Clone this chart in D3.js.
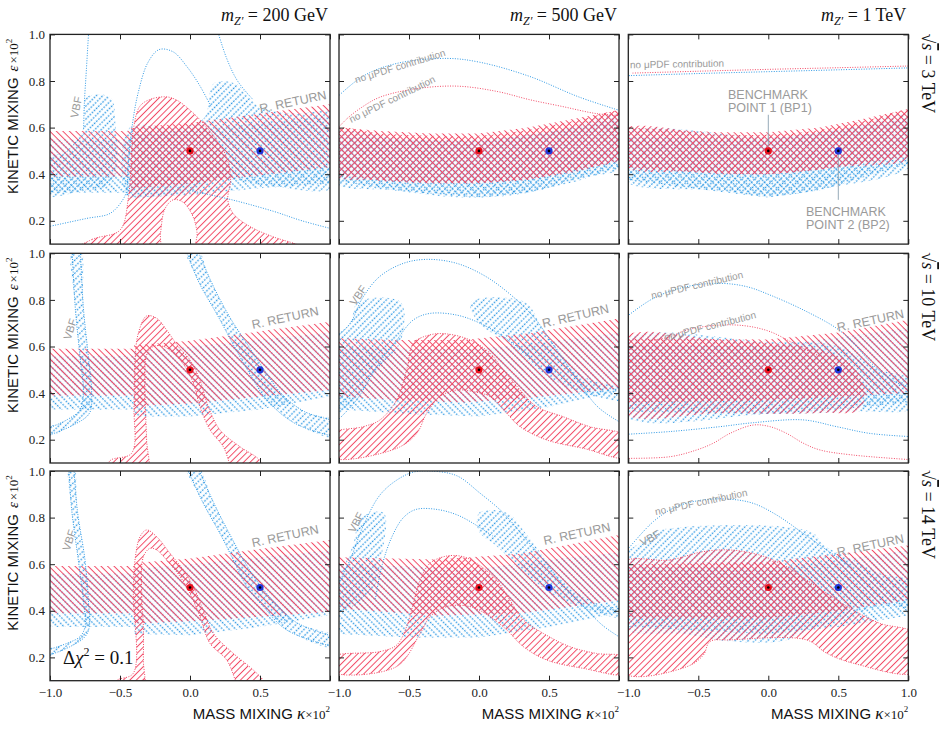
<!DOCTYPE html>
<html>
<head>
<meta charset="utf-8">
<script src="https://cdn.jsdelivr.net/npm/d3@7"></script>
<style>
body { margin: 0; background: #fff; }
</style>
</head>
<body>
<script>
// values: x = kappa*1e2, y = epsilon*1e2
var massLabels = ["200 GeV", "500 GeV", "1 TeV"];
var energyLabels = ["3 TeV", "10 TeV", "14 TeV"];
var xTicks = [-1.0, -0.5, 0.0, 0.5, 1.0];
var yTicks = [0.2, 0.4, 0.6, 0.8, 1.0];
var bp1 = [0.0, 0.5];
var bp2 = [0.5, 0.5];

// bands are [x, low, high]; zones are closed outlines [x, y]; curves are open dotted lines

// --- m = 200 GeV, sqrt(s) = 3 TeV
var redBand00 = [[-1,0.39,0.585],[-0.42,0.39,0.585],[-0.42,0.34,0.60],[0,0.36,0.62],[0.5,0.395,0.66],[1,0.43,0.70]];
var blueBand00 = [[-1,0.32,0.55],[-0.42,0.32,0.55],[-0.42,0.30,0.57],[0,0.31,0.59],[0.5,0.34,0.62],[1,0.36,0.65]];
var redZone00 = [[-0.88,0.05],[-0.7,0.12],[-0.5,0.16],[-0.44,0.3],[-0.42,0.45],[-0.405,0.59],[-0.36,0.69],[-0.29,0.72],[-0.17,0.732],[-0.095,0.718],[0,0.675],[0.095,0.618],[0.19,0.546],[0.26,0.475],[0.29,0.375],[0.27,0.29],[0.31,0.23],[0.43,0.175],[0.6,0.13],[0.8,0.09],[0.9,0.05],[0.05,0.05],[0.05,0.15],[0.02,0.22],[-0.05,0.28],[-0.12,0.29],[-0.18,0.25],[-0.21,0.15],[-0.23,0.05]];
var blueZone00a = [[-1.05,0.31],[-0.76,0.33],[-0.57,0.355],[-0.52,0.45],[-0.53,0.6],[-0.57,0.73],[-0.74,0.73],[-0.76,0.6],[-0.88,0.5],[-1.05,0.46]];
var blueZone00b = [[-0.45,0.31],[-0.43,0.6],[-0.1,0.6],[0.1,0.64],[0.17,0.79],[0.32,0.79],[0.5,0.69],[0.75,0.66],[1.05,0.66],[1.05,0.35],[0.55,0.35],[0.2,0.38],[0,0.33],[-0.3,0.3]];
var blueCurves00 = [
  [[-0.72,1.05],[-0.74,0.85],[-0.755,0.7],[-0.76,0.59]],
  [[-0.45,0.31],[-0.44,0.45],[-0.41,0.62],[-0.37,0.75],[-0.3,0.88],[-0.22,0.935],[-0.12,0.925],[-0.02,0.86],[0.07,0.78],[0.15,0.69]],
  [[0.18,1.05],[0.26,0.9],[0.34,0.8],[0.45,0.72]],
  [[-1.05,0.17],[-0.74,0.21],[-0.57,0.232],[-0.48,0.29],[-0.45,0.33]],
  [[0.0,0.33],[0.3,0.29],[0.6,0.24],[0.8,0.2],[1.05,0.16]]
];

// --- m = 500 GeV, sqrt(s) = 3 TeV
var redBand01 = [[-1,0.40,0.60],[-0.7,0.37,0.585],[-0.35,0.36,0.575],[0,0.36,0.575],[0.35,0.375,0.60],[0.7,0.41,0.64],[1,0.46,0.675]];
var redZone01 = [[-1.05,0.59],[-0.7,0.575],[-0.35,0.565],[0,0.565],[0.35,0.59],[0.7,0.63],[1.05,0.665],[1.05,0.48],[0.7,0.42],[0.35,0.38],[0,0.365],[-0.35,0.365],[-0.7,0.375],[-1.05,0.40]];
var blueBand01 = [[-1,0.37,0.56],[-0.6,0.33,0.55],[0,0.30,0.54],[0.35,0.32,0.57],[0.7,0.37,0.6],[1,0.43,0.64]];
var blueZone01 = [[-1.05,0.57],[-0.5,0.55],[0,0.55],[0.5,0.58],[1.05,0.65],[1.05,0.44],[0.7,0.38],[0.35,0.32],[-0.1,0.30],[-0.6,0.33],[-1.05,0.37]];
var blueCurves01 = [[[-1.05,0.71],[-0.83,0.82],[-0.59,0.875],[-0.23,0.897],[0.01,0.88],[0.36,0.82],[0.72,0.73],[1.05,0.665]]];
var redCurves01 = [[[-1.05,0.57],[-0.94,0.64],[-0.83,0.69],[-0.71,0.73],[-0.47,0.765],[-0.16,0.778],[0.13,0.755],[0.36,0.72],[0.6,0.69],[0.84,0.66],[1.05,0.65]]];

// --- m = 1 TeV, sqrt(s) = 3 TeV
var redBand02 = [[-1,0.43,0.60],[-0.35,0.40,0.58],[0,0.40,0.58],[0.37,0.42,0.60],[0.7,0.45,0.64],[1,0.475,0.68]];
var redZone02 = [[-1.05,0.59],[-0.35,0.57],[0,0.57],[0.37,0.59],[0.7,0.63],[1.05,0.67],[1.05,0.48],[0.5,0.43],[0,0.40],[-0.5,0.41],[-1.05,0.44]];
var blueBand02 = [[-1,0.375,0.56],[-0.35,0.325,0.55],[0,0.30,0.55],[0.37,0.33,0.58],[0.7,0.39,0.61],[1,0.445,0.64]];
var blueZone02 = [[-1.05,0.57],[0,0.56],[0.5,0.59],[1.05,0.65],[1.05,0.45],[0.37,0.335],[0,0.305],[-0.35,0.33],[-1.05,0.38]];
var redCurves02 = [[[-0.97,0.834],[-0.5,0.842],[0,0.85],[0.5,0.857],[1.05,0.865]]];
var blueCurves02 = [[[-1.05,0.822],[-0.5,0.832],[0,0.84],[0.5,0.848],[1.05,0.857]]];

// --- m = 200 GeV, sqrt(s) = 10 TeV
var redBand10 = [[-1,0.39,0.59],[-0.4,0.39,0.59],[-0.4,0.345,0.605],[0,0.355,0.625],[0.5,0.385,0.665],[1,0.413,0.706]];
var blueBand10 = [[-1,0.33,0.56],[-0.4,0.33,0.56],[-0.4,0.30,0.58],[0,0.30,0.60],[0.5,0.33,0.63],[1,0.385,0.66]];
var vbfOuter10 = [[-0.845,1.05],[-0.82,0.77],[-0.786,0.557],[-0.762,0.4],[-0.786,0.328],[-0.88,0.285],[-1.05,0.24]];
var vbfInner10 = [[-0.786,1.05],[-0.762,0.77],[-0.726,0.557],[-0.702,0.4],[-0.719,0.313],[-0.833,0.263],[-1.05,0.21]];
var rrLeft10 = [[-0.05,1.05],[0.06,0.88],[0.2,0.73],[0.33,0.585],[0.43,0.48],[0.55,0.37],[0.75,0.27],[1.05,0.21]];
var rrRight10 = [[0.03,1.05],[0.15,0.88],[0.28,0.73],[0.42,0.6],[0.53,0.5],[0.65,0.4],[0.82,0.32],[1.05,0.28]];
var redZone10 = [[-0.6,0.05],[-0.571,0.11],[-0.417,0.142],[-0.4,0.342],[-0.393,0.542],[-0.369,0.657],[-0.31,0.731],[-0.238,0.721],[-0.167,0.671],[-0.083,0.599],[0,0.542],[0.071,0.456],[0.131,0.342],[0.214,0.242],[0.357,0.170],[0.5,0.11],[0.53,0.05],[0.33,0.05],[0.238,0.170],[0.143,0.242],[0.071,0.342],[0.024,0.442],[-0.036,0.514],[-0.119,0.571],[-0.19,0.6],[-0.262,0.6],[-0.31,0.564],[-0.321,0.456],[-0.317,0.313],[-0.31,0.199],[-0.31,0.05]];

// --- m = 500 GeV, sqrt(s) = 10 TeV
var redBand11 = [[-1,0.385,0.635],[-0.59,0.37,0.628],[-0.11,0.36,0.628],[0.36,0.38,0.657],[1,0.42,0.72]];
var redTop11 = [[-1.05,0.225],[-0.826,0.256],[-0.707,0.285],[-0.588,0.371],[-0.517,0.5],[-0.469,0.614],[-0.35,0.65],[-0.231,0.654],[-0.064,0.628],[0.079,0.571],[0.174,0.5],[0.293,0.414],[0.412,0.342],[0.6,0.299],[0.79,0.256],[1.05,0.215]];
var redBottom11 = [[-1.05,0.125],[-0.588,0.163],[-0.445,0.227],[-0.374,0.313],[-0.279,0.385],[-0.16,0.413],[-0.04,0.406],[0.079,0.385],[0.198,0.313],[0.293,0.256],[0.483,0.199],[0.745,0.163],[1.05,0.125]];
var blueBand11 = [[-1,0.33,0.60],[-0.5,0.31,0.59],[0,0.30,0.59],[0.5,0.34,0.62],[1,0.41,0.66]];
var blueZone11a = [[-1.05,0.62],[-0.92,0.70],[-0.865,0.79],[-0.56,0.79],[-0.56,0.62],[-0.7,0.52],[-0.85,0.4],[-1.05,0.29]];
var blueZone11b = [[-0.06,0.79],[0.33,0.79],[0.45,0.68],[0.6,0.56],[0.75,0.47],[1.05,0.41],[1.05,0.37],[0.7,0.41],[0.45,0.49],[0.2,0.62],[0,0.7]];
var blueCurves11 = [
  [[-1.05,0.62],[-0.92,0.70],[-0.83,0.81],[-0.71,0.9],[-0.54,0.957],[-0.37,0.974],[-0.16,0.957],[0.05,0.9],[0.25,0.81],[0.4,0.72],[0.55,0.59],[0.7,0.46],[0.85,0.34],[1.05,0.26]],
  [[-1.05,0.26],[-0.874,0.371],[-0.731,0.514],[-0.588,0.628],[-0.469,0.714],[-0.35,0.742],[-0.16,0.735],[0.007,0.7],[0.174,0.642],[0.364,0.557]]
];

// --- m = 1 TeV, sqrt(s) = 10 TeV
var redBand12 = [[-1,0.36,0.635],[0,0.37,0.63],[0.5,0.385,0.66],[1,0.40,0.715]];
var redZone12 = [[-1.05,0.635],[-0.345,0.628],[0.012,0.614],[0.37,0.585],[0.58,0.53],[0.68,0.43],[0.66,0.33],[0.37,0.315],[-0.345,0.313],[-1.05,0.32]];
var blueBand12 = [[-1,0.32,0.61],[0,0.31,0.60],[0.5,0.33,0.64],[1,0.36,0.68]];
var blueZone12 = [[-1.05,0.62],[0,0.62],[0.5,0.6],[0.8,0.5],[1.05,0.45],[1.05,0.34],[0.6,0.32],[0,0.31],[-1.05,0.31]];
var blueCurves12 = [
  [[-1.05,0.71],[-0.82,0.807],[-0.583,0.857],[-0.345,0.871],[-0.155,0.857],[0.012,0.821],[0.25,0.757],[0.488,0.678],[0.6,0.62],[0.75,0.52],[0.9,0.45],[1.05,0.42]],
  [[-1.05,0.222],[-0.702,0.235],[-0.345,0.256],[-0.107,0.273],[0.25,0.285],[0.488,0.256],[0.726,0.227],[1.05,0.212]]
];
var redCurves12 = [
  [[-0.85,0.625],[-0.702,0.642],[-0.583,0.671],[-0.345,0.692],[-0.155,0.688],[0.012,0.664],[0.179,0.614],[0.274,0.585],[0.37,0.557]],
  [[-1.05,0.12],[-0.702,0.127],[-0.512,0.156],[-0.393,0.185],[-0.274,0.227],[-0.107,0.263],[0.012,0.256],[0.131,0.227],[0.25,0.185],[0.369,0.156],[0.607,0.134],[1.05,0.113]]
];

// --- m = 200 GeV, sqrt(s) = 14 TeV
var redBand20 = [[-1,0.39,0.592],[-0.4,0.39,0.592],[-0.4,0.345,0.605],[0,0.355,0.625],[0.5,0.375,0.665],[1,0.396,0.704]];
var blueBand20 = [[-1,0.33,0.56],[-0.4,0.33,0.56],[-0.4,0.30,0.58],[0,0.295,0.60],[0.5,0.33,0.63],[1,0.382,0.66]];
var vbfOuter20 = [[-0.869,1.05],[-0.845,0.833],[-0.798,0.618],[-0.762,0.446],[-0.75,0.332],[-0.786,0.289],[-0.881,0.26],[-1.05,0.225]];
var vbfInner20 = [[-0.833,1.05],[-0.805,0.833],[-0.75,0.618],[-0.726,0.446],[-0.719,0.332],[-0.75,0.289],[-0.857,0.246],[-1.05,0.2]];
var rrLeft20 = [[-0.048,1.05],[0.095,0.861],[0.214,0.732],[0.31,0.618],[0.405,0.504],[0.524,0.418],[0.69,0.318],[1.05,0.24]];
var rrRight20 = [[0.03,1.05],[0.18,0.85],[0.3,0.71],[0.4,0.6],[0.5,0.51],[0.6,0.44],[0.76,0.35],[1.05,0.285]];
var redZone20 = [[-0.55,0.05],[-0.524,0.1],[-0.405,0.132],[-0.405,0.475],[-0.393,0.618],[-0.357,0.718],[-0.31,0.747],[-0.238,0.718],[-0.143,0.647],[-0.048,0.575],[0.024,0.504],[0.095,0.403],[0.167,0.303],[0.31,0.217],[0.452,0.146],[0.524,0.1],[0.55,0.05],[0.38,0.05],[0.262,0.189],[0.143,0.26],[0.071,0.375],[0,0.475],[-0.071,0.547],[-0.167,0.618],[-0.238,0.661],[-0.286,0.668],[-0.333,0.632],[-0.345,0.475],[-0.333,0.332],[-0.333,0.189],[-0.338,0.05]];

// --- m = 500 GeV, sqrt(s) = 14 TeV
var redBand21 = [[-1,0.41,0.63],[-0.3,0.38,0.62],[0.3,0.39,0.645],[1,0.445,0.725]];
var redTop21 = [[-1.05,0.2],[-0.707,0.225],[-0.588,0.253],[-0.517,0.332],[-0.469,0.432],[-0.421,0.532],[-0.35,0.604],[-0.231,0.635],[-0.112,0.632],[-0.017,0.604],[0.126,0.532],[0.221,0.446],[0.317,0.361],[0.46,0.303],[0.65,0.246],[0.84,0.217],[1.05,0.2]];
var redBottom21 = [[-1.05,0.139],[-0.59,0.16],[-0.42,0.303],[-0.35,0.375],[-0.23,0.418],[-0.064,0.418],[0.079,0.375],[0.198,0.318],[0.317,0.246],[0.483,0.189],[0.745,0.153],[1.05,0.13]];
var blueBand21 = [[-1,0.30,0.60],[-0.5,0.285,0.59],[0,0.285,0.58],[0.5,0.33,0.62],[1,0.39,0.65]];
var blueZone21a = [[-0.97,0.58],[-0.9,0.68],[-0.84,0.8],[-0.68,0.82],[-0.7,0.62],[-0.75,0.5],[-0.9,0.42],[-1.05,0.4]];
var blueZone21b = [[0.0,0.82],[0.2,0.82],[0.35,0.72],[0.5,0.6],[0.65,0.5],[0.85,0.43],[1.05,0.40],[1.05,0.37],[0.75,0.41],[0.5,0.48],[0.3,0.58],[0.12,0.68],[0,0.74]];
var blueCurves21 = [
  [[-1.05,0.46],[-0.92,0.62],[-0.83,0.76],[-0.71,0.895],[-0.59,0.96],[-0.47,0.995],[-0.35,1.0],[-0.16,0.98],[0.007,0.905],[0.174,0.82],[0.317,0.72],[0.46,0.62],[0.6,0.51],[0.745,0.42],[0.888,0.335],[1.05,0.27]],
  [[-0.74,0.45],[-0.69,0.6],[-0.62,0.72],[-0.54,0.8],[-0.45,0.835],[-0.3,0.835],[-0.15,0.81],[0,0.76],[0.1,0.72]]
];

// --- m = 1 TeV, sqrt(s) = 14 TeV
var redBand22 = [[-1,0.37,0.60],[0,0.37,0.61],[0.5,0.40,0.645],[1,0.445,0.68]];
var redTop22 = [[-1.05,0.602],[-0.702,0.618],[-0.464,0.654],[-0.274,0.661],[-0.06,0.639],[0.131,0.589],[0.274,0.532],[0.417,0.475],[0.607,0.403],[0.798,0.346],[1.05,0.3]];
var redBottom22 = [[-1.05,0.138],[-0.583,0.16],[-0.464,0.21],[-0.417,0.268],[-0.274,0.275],[0.274,0.275],[0.417,0.218],[0.607,0.175],[1.05,0.138]];
var blueBand22 = [[-1,0.33,0.59],[0,0.30,0.58],[0.5,0.33,0.62],[1,0.38,0.66]];
var blueZone22 = [[-1.05,0.62],[-0.9,0.70],[-0.82,0.74],[0.3,0.74],[0.4,0.68],[0.6,0.62],[0.8,0.56],[1.05,0.52],[1.05,0.42],[0.8,0.42],[0.5,0.36],[0.3,0.32],[0.1,0.27],[-0.3,0.27],[-0.6,0.3],[-1.05,0.33]];
var blueCurves22 = [[[-1.05,0.63],[-0.821,0.783],[-0.655,0.847],[-0.464,0.876],[-0.274,0.879],[-0.107,0.861],[0.06,0.811],[0.25,0.732],[0.417,0.661],[0.6,0.585]]];

function loop(a, b) { return a.concat(b.slice().reverse()); }

var panels = [
  {row:0, col:0, redBand:redBand00, blueBand:blueBand00, redZones:[redZone00], blueZones:[blueZone00a, blueZone00b], redCurves:[], blueCurves:blueCurves00, outline:true},
  {row:0, col:1, redBand:redBand01, blueBand:blueBand01, redZones:[redZone01], blueZones:[blueZone01], redCurves:redCurves01, blueCurves:blueCurves01, outline:false},
  {row:0, col:2, redBand:redBand02, blueBand:blueBand02, redZones:[redZone02], blueZones:[blueZone02], redCurves:redCurves02, blueCurves:blueCurves02, outline:false},
  {row:1, col:0, redBand:redBand10, blueBand:blueBand10, redZones:[redZone10], blueZones:[loop(vbfOuter10, vbfInner10), loop(rrLeft10, rrRight10)], redCurves:[], blueCurves:[vbfOuter10, vbfInner10, rrLeft10, rrRight10], outline:true},
  {row:1, col:1, redBand:redBand11, blueBand:blueBand11, redZones:[loop(redTop11, redBottom11)], blueZones:[blueZone11a, blueZone11b], redCurves:[], blueCurves:blueCurves11, outline:true},
  {row:1, col:2, redBand:redBand12, blueBand:blueBand12, redZones:[redZone12], blueZones:[blueZone12], redCurves:redCurves12, blueCurves:blueCurves12, outline:false},
  {row:2, col:0, redBand:redBand20, blueBand:blueBand20, redZones:[redZone20], blueZones:[loop(vbfOuter20, vbfInner20), loop(rrLeft20, rrRight20)], redCurves:[], blueCurves:[vbfOuter20, vbfInner20, rrLeft20, rrRight20], outline:true},
  {row:2, col:1, redBand:redBand21, blueBand:blueBand21, redZones:[loop(redTop21, redBottom21)], blueZones:[blueZone21a, blueZone21b], redCurves:[], blueCurves:blueCurves21, outline:true},
  {row:2, col:2, redBand:redBand22, blueBand:blueBand22, redZones:[loop(redTop22, redBottom22)], blueZones:[blueZone22], redCurves:[], blueCurves:blueCurves22, outline:true}
];

// grey annotations: panel, text, x, y, angle, size
var notes = [
  [0, "VBF", -0.814, 0.688, -78, 11],
  [0, "R. RETURN", 0.736, 0.71, -12, 12.5],
  [1, "no \u03bcPDF contribution", -0.564, 0.864, -17, 10],
  [1, "no \u03bcPDF contribution", -0.621, 0.722, -26, 10],
  [2, "no \u03bcPDF contribution", -0.652, 0.873, -1, 10],
  [3, "VBF", -0.857, 0.675, -72, 11],
  [3, "R. RETURN", 0.68, 0.722, -12, 12.5],
  [4, "VBF", -0.864, 0.82, -55, 11],
  [4, "R. RETURN", 0.69, 0.73, -13, 12.5],
  [5, "no \u03bcPDF contribution", -0.509, 0.864, -13, 10],
  [5, "no \u03bcPDF contribution", -0.416, 0.688, -14, 10],
  [5, "R. RETURN", 0.73, 0.71, -12, 12.5],
  [6, "VBF", -0.864, 0.704, -72, 11],
  [6, "R. RETURN", 0.68, 0.72, -12, 12.5],
  [7, "VBF", -0.879, 0.78, -62, 11],
  [7, "R. RETURN", 0.7, 0.73, -12, 12.5],
  [8, "no \u03bcPDF contribution", -0.48, 0.867, -12, 10],
  [8, "VBF", -0.845, 0.713, -28, 11],
  [8, "R. RETURN", 0.73, 0.68, -12, 12.5]
];

var w = 945, h = 751;
var colX = [50, 339, 628.3];
var rowY = [34.4, 253.3, 471];
var pw = 280, ph = 209.7;
var RED = "#f24a66", BLUE = "#2f99e4", GREY = "#9a9a9a";
var serif = "'Liberation Serif', 'DejaVu Serif', serif";
var sans = "'Liberation Sans', Arial, sans-serif";
var fmt = d3.format(".1f");

var svg = d3.select("body").append("svg").attr("width", w).attr("height", h);
var defs = svg.append("defs");

function hatch(id, color, angle, gap, sw, dash) {
  var p = defs.append("pattern").attr("id", id)
    .attr("patternUnits", "userSpaceOnUse")
    .attr("width", 6).attr("height", gap)
    .attr("patternTransform", "rotate(" + angle + ")");
  p.append("line").attr("x1", 0).attr("x2", 6).attr("y1", gap / 2).attr("y2", gap / 2)
    .attr("stroke", color).attr("stroke-width", sw)
    .attr("stroke-dasharray", dash);
}
hatch("redBack", RED, 45, 4.6, 1.0, null);
hatch("redFwd", RED, -45, 4.6, 1.0, null);
hatch("blueBack", BLUE, 45, 4.6, 1.4, "1.6 1.4");
hatch("blueFwd", BLUE, -45, 4.6, 1.4, "1.6 1.4");

panels.forEach(function(p, i) {
  var x0 = colX[p.col], y0 = rowY[p.row];
  var x = d3.scaleLinear().domain([-1, 1]).range([x0, x0 + pw]);
  var y = d3.scaleLinear().domain([0.1, 1]).range([y0 + ph, y0]);

  defs.append("clipPath").attr("id", "clip" + i)
    .append("rect").attr("x", x0).attr("y", y0).attr("width", pw).attr("height", ph);
  var g = svg.append("g").attr("clip-path", "url(#clip" + i + ")");

  var area = d3.area().x(function(d) { return x(d[0]); })
    .y0(function(d) { return y(d[1]); }).y1(function(d) { return y(d[2]); });
  var shape = d3.line().x(function(d) { return x(d[0]); }).y(function(d) { return y(d[1]); })
    .curve(d3.curveCatmullRomClosed.alpha(0.5));
  var curve = d3.line().x(function(d) { return x(d[0]); }).y(function(d) { return y(d[1]); })
    .curve(d3.curveCatmullRom.alpha(0.5));

  g.append("path").attr("d", area(p.blueBand)).attr("fill", "url(#blueBack)");
  p.blueZones.forEach(function(z) {
    g.append("path").attr("d", shape(z)).attr("fill", "url(#blueFwd)");
  });
  g.append("path").attr("d", area(p.redBand)).attr("fill", "url(#redBack)");
  p.redZones.forEach(function(z) {
    g.append("path").attr("d", shape(z)).attr("fill", "url(#redFwd)");
    if (p.outline) {
      g.append("path").attr("d", shape(z)).attr("fill", "none")
        .attr("stroke", RED).attr("stroke-width", 1).attr("stroke-dasharray", "1 1.5");
    }
  });
  p.blueCurves.forEach(function(c) {
    g.append("path").attr("d", curve(c)).attr("fill", "none")
      .attr("stroke", BLUE).attr("stroke-width", 1).attr("stroke-dasharray", "1 1.5");
  });
  p.redCurves.forEach(function(c) {
    g.append("path").attr("d", curve(c)).attr("fill", "none")
      .attr("stroke", RED).attr("stroke-width", 1).attr("stroke-dasharray", "1 1.5");
  });

  notes.filter(function(n) { return n[0] === i; }).forEach(function(n) {
    g.append("text").attr("transform", "translate(" + x(n[2]) + "," + y(n[3]) + ") rotate(" + n[4] + ")")
      .attr("text-anchor", "middle").attr("dominant-baseline", "central")
      .attr("font-family", sans).attr("font-size", n[5]).attr("fill", GREY).text(n[1]);
  });

  if (i === 2) {
    // benchmark call-outs
    [[bp1, -0.288, 0.723, 0.655, 0.52, "POINT 1 (BP1)"], [bp2, 0.269, 0.221, 0.49, 0.29, "POINT 2 (BP2)"]].forEach(function(b) {
      g.append("line").attr("x1", x(b[0][0])).attr("x2", x(b[0][0]))
        .attr("y1", y(b[3])).attr("y2", y(b[4])).attr("stroke", "#8aa0b0").attr("stroke-width", 0.9);
      g.append("text").attr("x", x(b[1])).attr("y", y(b[2]))
        .attr("font-family", sans).attr("font-size", 12.5).attr("fill", GREY).text("BENCHMARK");
      g.append("text").attr("x", x(b[1])).attr("y", y(b[2]) + 13)
        .attr("font-family", sans).attr("font-size", 12.5).attr("fill", GREY).text(b[5]);
    });
  }

  g.append("circle").attr("cx", x(bp1[0])).attr("cy", y(bp1[1])).attr("r", 3.6).attr("fill", "#e8121e");
  g.append("circle").attr("cx", x(bp1[0])).attr("cy", y(bp1[1])).attr("r", 1.3).attr("fill", "#000");
  g.append("circle").attr("cx", x(bp2[0])).attr("cy", y(bp2[1])).attr("r", 3.6).attr("fill", "#2036d8");
  g.append("circle").attr("cx", x(bp2[0])).attr("cy", y(bp2[1])).attr("r", 1.3).attr("fill", "#000");

  // axes: inward ticks on all four sides
  function style(sel) {
    sel.select(".domain").remove();
    sel.selectAll("line").attr("stroke", "#222");
    sel.selectAll("text").attr("font-family", serif).attr("font-size", 13).attr("fill", "#222");
  }
  svg.append("g").attr("transform", "translate(0," + (y0 + ph) + ")")
    .call(d3.axisBottom(x).tickValues(xTicks).tickSize(-5).tickPadding(7)
      .tickFormat(function(d) { return (p.row === 2 && (d < 1 || p.col === 2)) ? fmt(d) : ""; }))
    .call(style);
  svg.append("g").attr("transform", "translate(0," + y0 + ")")
    .call(d3.axisTop(x).tickValues(xTicks).tickSize(-5).tickFormat(""))
    .call(style);
  svg.append("g").attr("transform", "translate(" + x0 + ",0)")
    .call(d3.axisLeft(y).tickValues(yTicks).tickSize(-5).tickPadding(5)
      .tickFormat(function(d) { return p.col === 0 ? fmt(d) : ""; }))
    .call(style);
  svg.append("g").attr("transform", "translate(" + (x0 + pw) + ",0)")
    .call(d3.axisRight(y).tickValues(yTicks).tickSize(-5).tickFormat(""))
    .call(style);
  svg.append("rect").attr("x", x0).attr("y", y0).attr("width", pw).attr("height", ph)
    .attr("fill", "none").attr("stroke", "#222").attr("stroke-width", 1.3);

  if (i === 6) {
    var dc = svg.append("text").attr("x", x(-0.907)).attr("y", y(0.172))
      .attr("font-family", serif).attr("font-size", 19).attr("fill", "#111");
    dc.append("tspan").text("\u0394");
    dc.append("tspan").attr("font-style", "italic").text("\u03c7");
    dc.append("tspan").attr("font-size", 12).attr("dy", -8).text("2");
    dc.append("tspan").attr("dy", 8).text(" = 0.1");
  }
});

// column titles
massLabels.forEach(function(m, c) {
  var t = svg.append("text").attr("x", colX[c] + pw - 2).attr("y", 21).attr("text-anchor", "end")
    .attr("font-family", serif).attr("font-size", 18).attr("fill", "#111");
  t.append("tspan").attr("font-style", "italic").text("m");
  t.append("tspan").attr("font-style", "italic").attr("font-size", 12).attr("dy", 4).text("Z\u2032");
  t.append("tspan").attr("dy", -4).text(" = " + m);
});

// row titles
energyLabels.forEach(function(e, r) {
  var t = svg.append("text").attr("transform", "translate(922," + (rowY[r] - 1) + ") rotate(90)")
    .attr("font-family", serif).attr("font-size", 18).attr("fill", "#111");
  t.append("tspan").text("\u221a");
  t.append("tspan").attr("font-style", "italic").style("text-decoration", "overline").text("s");
  t.append("tspan").text(" = " + e);
});

// y labels
rowY.forEach(function(top) {
  var t = svg.append("text").attr("transform", "translate(18," + (top + 82) + ") rotate(-90)")
    .attr("text-anchor", "middle").attr("fill", "#111");
  t.append("tspan").attr("font-family", sans).attr("font-size", 15).text("KINETIC MIXING");
  t.append("tspan").attr("font-family", serif).attr("font-style", "italic").attr("font-size", 15).attr("dx", 6).text("\u03b5");
  t.append("tspan").attr("font-family", serif).attr("font-size", 13).attr("dx", 2).text("\u00d710");
  t.append("tspan").attr("font-family", serif).attr("font-size", 9).attr("dy", -6).text("2");
});

// x labels
colX.forEach(function(left) {
  var t = svg.append("text").attr("x", left + pw).attr("y", 719).attr("text-anchor", "end").attr("fill", "#111");
  t.append("tspan").attr("font-family", sans).attr("font-size", 15).text("MASS MIXING ");
  t.append("tspan").attr("font-family", serif).attr("font-style", "italic").attr("font-size", 17).text("\u03ba");
  t.append("tspan").attr("font-family", serif).attr("font-size", 13).text("\u00d710");
  t.append("tspan").attr("font-family", serif).attr("font-size", 9).attr("dy", -7).text("2");
});
</script>
</body>
</html>
